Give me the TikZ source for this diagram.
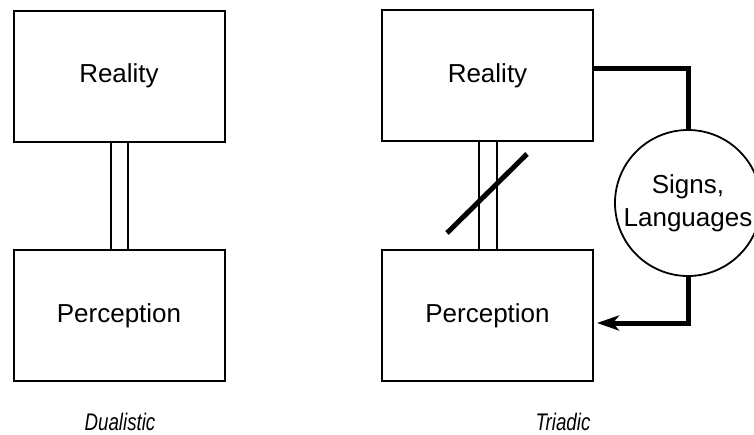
\documentclass[tikz,border=0pt]{standalone}
\usepackage{fontspec}
\setmainfont{Liberation Sans}
\newfontfamily\capfont[FakeStretch=0.78]{Liberation Sans Italic}
\usetikzlibrary{arrows.meta}
\begin{document}
\begin{tikzpicture}[x=1pt,y=-1pt,
  box/.style={draw,line width=2pt,minimum width=211pt,minimum height=131pt,inner sep=0pt,font=\fontsize{26}{33}\selectfont},
  circ/.style={draw,circle,line width=1.8pt,minimum size=146pt,inner sep=0pt,align=center,font=\fontsize{26}{33}\selectfont},
  thin/.style={line width=2pt},
  thick/.style={line width=5pt},
  caption/.style={anchor=base,font=\capfont\fontsize{24}{28}\selectfont}]
\useasboundingbox (0,0) rectangle (754,434);
% Dualistic
\node[box] (R1) at (119,76) {Reality};
\node[box] (P1) at (119,315.5) {Perception};
\draw[thin] ([xshift=-8.5pt]R1.south) -- ([xshift=-8.5pt]P1.north);
\draw[thin] ([xshift=8.5pt]R1.south) -- ([xshift=8.5pt]P1.north);
\node[caption] (D) at (120,430) {Dualistic};
% Triadic
\node[box] (R2) at (487.5,75.5) {Reality};
\node[box] (P2) at (487.5,315.5) {Perception};
\draw[thin] ([xshift=-9pt]R2.south) -- ([xshift=-9pt]P2.north);
\draw[thin] ([xshift=9pt]R2.south) -- ([xshift=9pt]P2.north);
\coordinate (s1) at (447,233);
\coordinate (s2) at (527,154);
\draw[thick] (s1) -- (s2);
\node[circ] (S) at (688,203) {Signs,\\Languages};
\draw[thick] ([yshift=7.5pt]R2.east) -| (S.north);
\draw[thick,-{Stealth[length=22pt,width=15pt,inset=6pt]},shorten >=3pt] (S.south) |- ([yshift=-7.5pt]P2.east);
\node[caption] (T) at (563,430) {Triadic};
\end{tikzpicture}
\end{document}
